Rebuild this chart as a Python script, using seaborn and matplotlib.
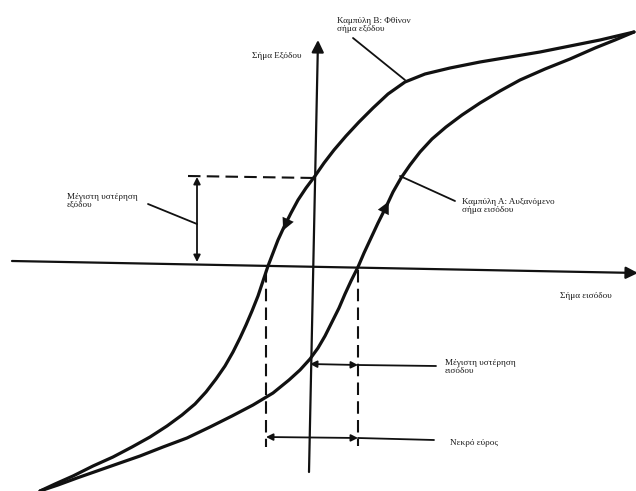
import matplotlib
matplotlib.use("Agg")
import matplotlib.pyplot as plt
import seaborn as sns
import pandas as pd

# Curve A: rising input signal (traced bottom-left -> top-right)
curve_a_x = [40, 58, 77, 97, 117, 140, 163, 187, 210, 232, 253, 273, 289, 300, 310,
             318, 325, 332, 339, 345, 351, 358, 364, 371, 378, 386, 393, 401, 410,
             420, 432, 446, 462, 480, 500, 520, 545, 570, 595, 615, 634]
curve_a_y = [491, 485, 478, 471, 464, 456, 447, 438, 427, 416, 405, 393, 380, 370, 359,
             348, 336, 322, 308, 294, 281, 267, 253, 238, 223, 207, 192, 178, 165,
             152, 139, 127, 115, 103, 91, 80, 69, 59, 48, 40, 32]

# Curve B: falling output signal (traced top-right -> bottom-left)
curve_b_x = [634, 600, 570, 540, 510, 480, 450, 425, 405, 388, 373, 359, 346, 334,
             324, 315, 306, 298, 291, 284, 278, 273, 268, 263, 258, 252, 246, 240,
             233, 225, 216, 206, 195, 182, 167, 150, 132, 113, 93, 73, 55, 40]
curve_b_y = [32, 40, 46, 52, 57, 62, 68, 74, 82, 94, 108, 122, 136, 150,
             163, 176, 188, 200, 213, 227, 240, 253, 266, 281, 296, 311, 325, 338,
             352, 366, 379, 392, 404, 415, 426, 437, 447, 457, 466, 476, 484, 491]

# Labels of the diagram
label_output_axis = "Σήμα Εξόδου"
label_input_axis = "Σήμα εισόδου"
label_curve_b = "Καμπύλη Β: Φθίνον\nσήμα εξόδου"
label_curve_a = "Καμπύλη Α: Αυξανόμενο\nσήμα εισόδου"
label_out_hyst = "Μέγιστη υστέρηση\nεξόδου"
label_in_hyst = "Μέγιστη υστέρηση\nεισόδου"
label_dead_band = "Νεκρό εύρος"

sns.set_theme(style="white")
plt.rcParams["font.family"] = ["Liberation Serif", "DejaVu Serif"]

INK = "#111111"
fig = plt.figure(figsize=(6.36, 4.91), dpi=100)
ax = fig.add_axes([0, 0, 1, 1])
ax.set_xlim(0, 636)
ax.set_ylim(491, 0)
ax.axis("off")

curves = pd.concat([
    pd.DataFrame({"x": curve_a_x, "y": curve_a_y, "curve": "A"}),
    pd.DataFrame({"x": curve_b_x, "y": curve_b_y, "curve": "B"}),
])
sns.lineplot(data=curves, x="x", y="y", units="curve", estimator=None, sort=False,
             color=INK, linewidth=2.3, ax=ax, legend=False)
for ln in ax.lines:
    ln.set_solid_joinstyle("round")
    ln.set_solid_capstyle("round")

# direction arrows on the curves
ax.annotate("", xy=(282, 233), xytext=(291, 213),
            arrowprops=dict(arrowstyle="-|>", color=INK, lw=0, mutation_scale=22))
ax.annotate("", xy=(390, 199), xytext=(380, 219),
            arrowprops=dict(arrowstyle="-|>", color=INK, lw=0, mutation_scale=22))

# axes of the diagram
ax.annotate("", xy=(318, 40), xytext=(309, 472), annotation_clip=False,
            arrowprops=dict(arrowstyle="-|>", color=INK, lw=1.6, mutation_scale=18,
                            shrinkA=0, shrinkB=0))
ax.annotate("", xy=(638, 273), xytext=(12, 261), annotation_clip=False,
            arrowprops=dict(arrowstyle="-|>", color=INK, lw=1.6, mutation_scale=18,
                            shrinkA=0, shrinkB=0))

dash = dict(color=INK, lw=1.5, linestyle=(0, (6, 3)))
ax.plot([188, 315], [176, 178], **dash)
ax.plot([266, 266], [270, 447], **dash)
ax.plot([358, 358], [270, 446], **dash)

dbl = dict(arrowstyle="<|-|>", color=INK, lw=1.3, mutation_scale=10, shrinkA=0, shrinkB=0)
# output hysteresis
ax.annotate("", xy=(197, 177), xytext=(197, 262), arrowprops=dbl)
ax.plot([148, 197], [204, 224], color=INK, lw=1.3)
# input hysteresis
ax.annotate("", xy=(310, 364), xytext=(358, 365), arrowprops=dbl)
ax.plot([358, 436], [365, 366], color=INK, lw=1.3)
# dead band
ax.annotate("", xy=(266, 437), xytext=(358, 438), arrowprops=dbl)
ax.plot([358, 434], [438, 440], color=INK, lw=1.3)
# leader lines for the curve labels
ax.plot([353, 405], [38, 80], color=INK, lw=1.3)
ax.plot([400, 455], [176, 201], color=INK, lw=1.3)

txt = dict(fontsize=6.6, color="#1a1a1a", linespacing=1.1)
ax.text(252, 56, label_output_axis, ha="left", va="center", **txt)
ax.text(560, 296, label_input_axis, ha="left", va="center", **txt)
ax.text(337, 25, label_curve_b, ha="left", va="center", **txt)
ax.text(462, 206, label_curve_a, ha="left", va="center", **txt)
ax.text(67, 201, label_out_hyst, ha="left", va="center", **txt)
ax.text(445, 367, label_in_hyst, ha="left", va="center", **txt)
ax.text(450, 443, label_dead_band, ha="left", va="center", **txt)

fig.savefig("out.png", dpi=100, facecolor="white")
